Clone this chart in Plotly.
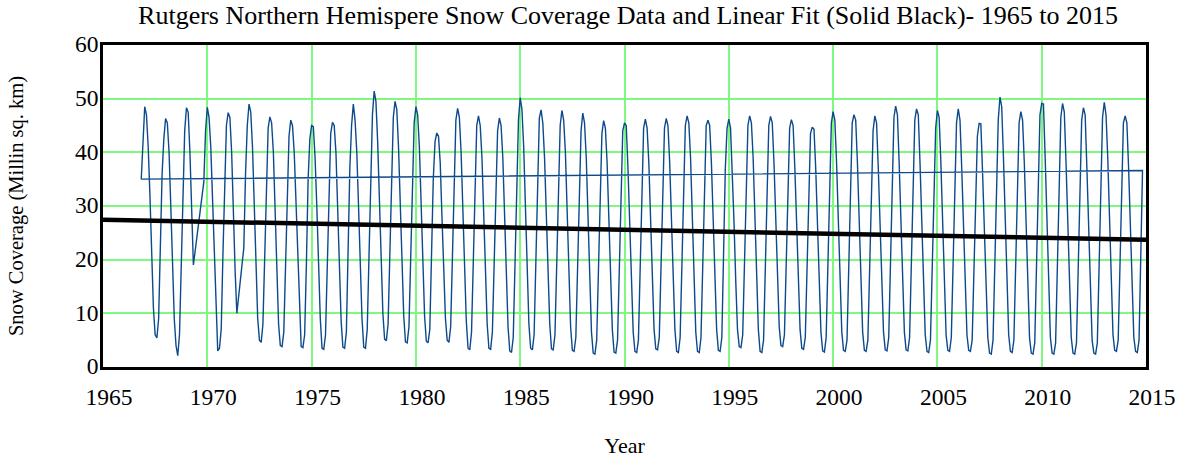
import plotly.graph_objects as go

# Monthly Northern Hemisphere snow cover (million sq. km), starting Nov 1966.
# None marks months missing from the record (drawn bridged, as in the original).
start_year = 1966
start_month = 11

snow_1960s = [
    35.0, 43.5,                                                        # 1966 Nov-Dec
    48.5, 47.0, 41.0, 32.0, 20.0, 11.0, 6.0, 5.4, 9.0, 22.0, 36.0, 42.5,   # 1967
    46.3, 45.5, 40.0, 30.0, 19.0, 9.0, 4.0, 2.1, 6.0, 20.0, 35.0, 44.0,    # 1968
    48.3, 47.5, 40.0, 30.0, 19.0, None, None, None, None, None, 34.5, 44.0,  # 1969
]
snow_1970s = [
    48.4, 46.5, 41.0, 31.0, 19.0, 9.0, 3.0, 3.5, 7.0, 21.0, 36.0, 45.0,    # 1970
    47.4, 46.5, 40.0, 28.0, 18.0, 10.0, None, None, None, 22.2, 36.0, 45.0,  # 1971
    49.0, 47.5, 41.0, 30.0, 19.0, 9.0, 5.0, 4.6, 8.0, 21.0, 36.0, 44.5,    # 1972
    46.6, 45.5, 40.0, 30.0, 18.0, 8.0, 4.0, 3.8, 6.5, 20.0, 35.0, 43.0,    # 1973
    46.0, 45.0, 40.0, 31.0, 20.0, 9.0, 3.8, 3.6, 6.0, 19.0, 35.0, 42.5,    # 1974
    45.0, 44.8, 39.0, 30.0, 19.0, 9.0, 3.5, 3.3, 6.0, 19.0, 34.0, 43.5,    # 1975
    45.6, 45.0, 40.0, 30.0, 19.0, 8.5, 3.7, 3.5, 6.5, 21.0, 37.0, 45.0,    # 1976
    49.0, 46.0, 40.0, 30.0, 19.0, 9.0, 3.7, 3.5, 7.0, 22.0, 38.0, 47.0,    # 1977
    51.4, 49.5, 42.0, 32.0, 20.0, 10.0, 5.2, 4.9, 8.0, 22.0, 38.0, 46.5,   # 1978
    49.5, 48.0, 41.0, 31.0, 19.0, 9.5, 4.7, 4.5, 7.5, 21.0, 37.0, 45.5,    # 1979
]
snow_1980s = [
    48.5, 47.0, 41.0, 30.0, 19.0, 9.5, 4.8, 4.5, 7.0, 20.0, 35.0, 42.0,    # 1980
    43.6, 43.0, 38.0, 28.0, 18.0, 9.0, 5.0, 4.6, 7.5, 21.0, 37.0, 46.0,    # 1981
    48.2, 46.5, 40.0, 30.0, 19.0, 8.5, 3.5, 3.2, 6.5, 20.0, 36.0, 45.0,    # 1982
    46.8, 45.0, 39.0, 29.0, 18.0, 8.0, 3.5, 3.3, 6.5, 20.0, 35.0, 44.0,    # 1983
    46.4, 45.0, 39.0, 29.0, 18.0, 7.5, 3.0, 2.7, 5.5, 20.0, 37.0, 46.0,    # 1984
    50.2, 48.0, 41.0, 30.0, 18.0, 8.0, 3.5, 3.2, 6.0, 20.0, 36.0, 46.4,    # 1985
    47.9, 45.5, 39.0, 29.0, 18.0, 8.0, 3.4, 3.2, 6.0, 20.0, 36.0, 45.0,    # 1986
    47.8, 46.0, 40.0, 29.0, 17.0, 7.5, 3.1, 2.9, 5.5, 19.0, 35.0, 44.0,    # 1987
    47.3, 45.5, 39.0, 28.0, 16.0, 6.5, 2.6, 2.4, 5.0, 19.0, 35.0, 43.5,    # 1988
    45.9, 44.5, 38.0, 27.0, 16.0, 7.0, 2.8, 2.6, 5.0, 19.0, 35.0, 44.0,    # 1989
]
snow_1990s = [
    45.5, 45.0, 37.0, 26.0, 15.0, 6.5, 2.9, 2.7, 5.0, 20.0, 35.0, 44.5,    # 1990
    46.2, 44.5, 38.0, 28.0, 16.0, 7.0, 3.4, 3.2, 5.5, 19.0, 35.0, 44.5,    # 1991
    46.3, 45.0, 38.0, 27.0, 16.0, 7.0, 2.9, 2.7, 5.5, 20.0, 36.0, 45.0,    # 1992
    46.8, 45.5, 39.0, 28.0, 16.0, 6.5, 2.9, 2.7, 5.5, 20.0, 36.0, 45.0,    # 1993
    46.0, 45.0, 38.0, 27.0, 16.0, 7.0, 3.1, 2.9, 5.5, 20.0, 37.0, 44.5,    # 1994
    46.2, 44.5, 37.0, 27.0, 16.0, 7.0, 3.8, 3.6, 6.0, 20.0, 36.0, 45.0,    # 1995
    46.8, 45.5, 39.0, 28.0, 17.0, 7.0, 2.9, 2.7, 5.0, 19.0, 35.0, 45.0,    # 1996
    46.7, 45.5, 38.0, 27.0, 16.0, 7.5, 4.0, 3.8, 6.0, 19.0, 35.0, 44.5,    # 1997
    46.1, 45.0, 37.0, 26.0, 15.0, 7.0, 3.5, 3.3, 5.5, 19.0, 34.0, 43.5,    # 1998
    44.7, 44.3, 37.0, 26.0, 15.0, 6.5, 3.0, 2.8, 5.5, 20.0, 37.0, 45.5,    # 1999
]
snow_2000s = [
    47.6, 46.0, 38.0, 27.0, 15.5, 6.5, 3.1, 2.9, 5.0, 19.0, 36.0, 45.5,    # 2000
    47.0, 46.0, 38.0, 27.0, 15.0, 6.5, 3.1, 2.9, 5.0, 19.0, 35.0, 44.0,    # 2001
    46.8, 45.5, 37.0, 26.0, 15.0, 6.5, 3.2, 3.0, 5.5, 20.0, 37.0, 46.5,    # 2002
    48.6, 47.0, 38.0, 27.0, 15.0, 6.5, 3.2, 3.0, 5.5, 20.0, 37.0, 46.0,    # 2003
    48.1, 47.0, 38.0, 26.0, 15.0, 6.0, 2.9, 2.7, 5.0, 19.0, 35.0, 44.5,    # 2004
    47.8, 46.5, 38.0, 27.0, 15.0, 6.0, 3.1, 2.9, 5.5, 20.0, 36.0, 45.5,    # 2005
    48.1, 46.0, 37.0, 26.0, 15.0, 6.0, 3.1, 2.9, 5.0, 18.0, 33.0, 43.0,    # 2006
    45.4, 45.3, 36.0, 25.0, 14.0, 5.5, 2.6, 2.4, 5.0, 19.0, 36.0, 46.0,    # 2007
    50.3, 48.5, 39.0, 27.0, 15.0, 6.0, 2.9, 2.7, 5.0, 19.0, 36.0, 45.5,    # 2008
    47.6, 46.0, 38.0, 26.0, 14.0, 5.5, 2.6, 2.4, 4.5, 19.0, 35.0, 47.0,    # 2009
]
snow_2010s = [
    49.1, 49.0, 39.0, 27.0, 14.0, 5.5, 2.6, 2.4, 4.5, 19.0, 36.0, 46.5,    # 2010
    49.1, 47.5, 38.0, 26.0, 14.0, 5.5, 2.6, 2.4, 4.5, 19.0, 35.0, 46.0,    # 2011
    48.3, 47.0, 37.0, 25.0, 13.0, 5.0, 2.6, 2.4, 4.5, 20.0, 37.0, 46.5,    # 2012
    49.3, 47.0, 39.0, 28.0, 15.0, 6.0, 3.1, 2.9, 5.0, 19.0, 35.0, 45.5,    # 2013
    46.8, 45.5, 37.0, 26.0, 14.0, 5.5, 2.9, 2.7, 5.0, 19.0, 36.6,          # 2014 Jan-Nov
]

# Linear fit endpoints (as drawn in the original)
fit_years = [1965, 2015]
fit_values = [27.45, 23.7]

x_ticks = [1965, 1970, 1975, 1980, 1985, 1990, 1995, 2000, 2005, 2010, 2015]
y_ticks = [0, 10, 20, 30, 40, 50, 60]

snow = snow_1960s + snow_1970s + snow_1980s + snow_1990s + snow_2000s + snow_2010s
years = [start_year + (start_month - 1 + i) / 12.0 for i in range(len(snow))]

# The original draws the data as a closed path (last point joined back to the first)
x_data = years + [years[0]]
y_data = snow + [snow[0]]

serif = "Liberation Serif"
FIG_W, FIG_H = 1188, 466

fig = go.Figure()
fig.add_trace(go.Scatter(
    x=x_data, y=y_data, mode="lines", connectgaps=True,
    line=dict(color="#0d4a8c", width=1.4), hoverinfo="skip", showlegend=False,
))
fig.add_trace(go.Scatter(
    x=fit_years, y=fit_values, mode="lines",
    line=dict(color="black", width=4.5), hoverinfo="skip", showlegend=False,
))

fig.update_layout(
    width=FIG_W, height=FIG_H,
    margin=dict(l=103, r=35, t=45, b=85),
    paper_bgcolor="white", plot_bgcolor="white",
    font=dict(family=serif, color="black", size=22),
    title=dict(
        text="Rutgers Northern Hemispere Snow Coverage Data and Linear Fit (Solid Black)- 1965 to 2015",
        x=628 / FIG_W, xanchor="center",
        y=1 - 15 / FIG_H, yanchor="middle", yref="container",
        font=dict(family=serif, size=26, color="black"),
    ),
    showlegend=False,
    hovermode=False,
)
fig.update_xaxes(
    range=[1965, 2015], tickvals=x_ticks, ticktext=[str(v) for v in x_ticks],
    showgrid=True, gridcolor="#7ef87e", gridwidth=1.5,
    showline=True, linecolor="black", linewidth=2.5, mirror=True,
    ticks="", zeroline=False, ticklabeloverflow="allow",
    tickfont=dict(family=serif, size=23.5, color="black"),
    ticklabelstandoff=7, ticklabelshift=6,
    title=dict(text="Year", standoff=29, font=dict(family=serif, size=22, color="black")),
)
fig.update_yaxes(
    range=[0, 60], tickvals=y_ticks, ticktext=[str(v) for v in y_ticks],
    showgrid=True, gridcolor="#7ef87e", gridwidth=1.5,
    showline=True, linecolor="black", linewidth=2.5, mirror=True,
    ticks="", zeroline=False,
    tickfont=dict(family=serif, size=23.5, color="black"),
    ticklabelstandoff=-3, ticklabelshift=-1,
    title=dict(text="Snow Coverage (Millin sq. km)", standoff=46,
               font=dict(family=serif, size=20.5, color="black")),
)

# Remove the default page margin so the figure starts at the window's corner
page_fix = ("document.body.style.margin='0';document.body.style.padding='0';"
            "document.documentElement.style.overflow='hidden';")
fig.write_html("out.html", config={"displayModeBar": False}, post_script=page_fix)
